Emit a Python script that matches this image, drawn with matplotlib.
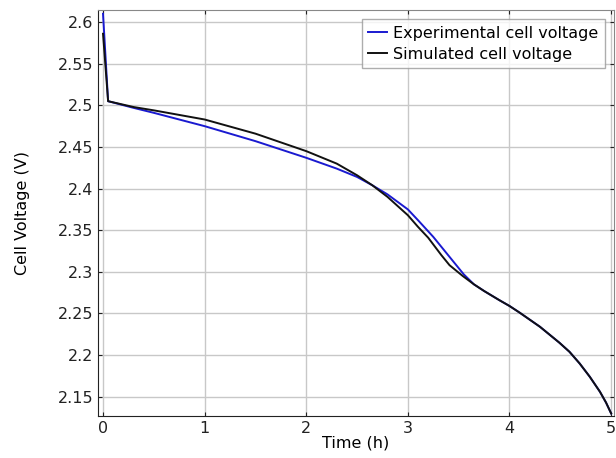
""" Cell voltage discharge: experiment vs simulation.
"""
import matplotlib
matplotlib.use('Agg')
import matplotlib.pyplot as plt

exp_time = [0, 0.05, 0.3, 0.5, 1.0, 1.5, 2.0, 2.3, 2.5, 2.65, 2.8, 3.0, 3.1,
            3.25, 3.41, 3.55, 3.65, 3.75, 3.9, 4.0, 4.1, 4.3, 4.49, 4.59,
            4.69, 4.79, 4.89, 4.95, 5.0]
exp_voltage = [2.61, 2.505, 2.497, 2.491, 2.475, 2.457, 2.437, 2.424, 2.414,
               2.404, 2.393, 2.375, 2.362, 2.342, 2.318, 2.297, 2.285, 2.277,
               2.266, 2.259, 2.251, 2.234, 2.215, 2.204, 2.19, 2.174, 2.156,
               2.143, 2.13]

# simulated data
sim_time = [0, 0.05, 0.3, 0.5, 1.0, 1.5, 2.0, 2.3, 2.5, 2.65, 2.8, 3.0, 3.1,
            3.2, 3.33, 3.41, 3.54, 3.65, 3.75, 3.9, 4.0, 4.1, 4.3, 4.49,
            4.59, 4.69, 4.79, 4.89, 4.95, 5.0]
sim_voltage = [2.586, 2.505, 2.498, 2.494, 2.483, 2.466, 2.445, 2.43, 2.416,
               2.404, 2.39, 2.368, 2.354, 2.341, 2.32, 2.308, 2.295, 2.285,
               2.277, 2.266, 2.259, 2.251, 2.234, 2.215, 2.204, 2.19, 2.174,
               2.156, 2.143, 2.13]

x_ticks = [0, 1, 2, 3, 4, 5]
y_ticks = [2.15, 2.2, 2.25, 2.3, 2.35, 2.4, 2.45, 2.5, 2.55, 2.6]
y_labels = ['2.15', '2.2', '2.25', '2.3', '2.35', '2.4', '2.45', '2.5',
            '2.55', '2.6']

plt.rcParams['font.family'] = 'DejaVu Sans'
fig = plt.figure(figsize=(6.16, 4.58), dpi=100)
ax = fig.add_axes([0.159, 0.092, 0.838, 0.887])

ax.plot(exp_time, exp_voltage, color='#1a1ad0', linewidth=1.4,
        label='Experimental cell voltage')
ax.plot(sim_time, sim_voltage, color='#111111', linewidth=1.4,
        label='Simulated cell voltage')

ax.set_xlim(-0.05, 5.03)
ax.set_ylim(2.127, 2.615)
ax.set_xticks(x_ticks)
ax.set_yticks(y_ticks)
ax.set_yticklabels(y_labels)
ax.tick_params(direction='in', labelsize=11.5, top=True, right=True,
               length=3, colors='#222222')
ax.grid(True, color='#c8c8c8', linewidth=1.0)
ax.set_axisbelow(True)
for side in ['left', 'bottom']:
    ax.spines[side].set_color('#222222')
for side in ['top', 'right']:
    ax.spines[side].set_color('#888888')

ax.set_xlabel('Time (h)', fontsize=11.5, labelpad=0)
ax.set_ylabel('Cell Voltage (V)', fontsize=11.5, labelpad=20)

leg = ax.legend(loc='upper right', fontsize=11.5, fancybox=False,
                handlelength=1.2, handletextpad=0.35, borderpad=0.4,
                labelspacing=0.4, borderaxespad=0.6)
leg.get_frame().set_edgecolor('#999999')
leg.get_frame().set_linewidth(1.0)

plt.savefig('out.png')
